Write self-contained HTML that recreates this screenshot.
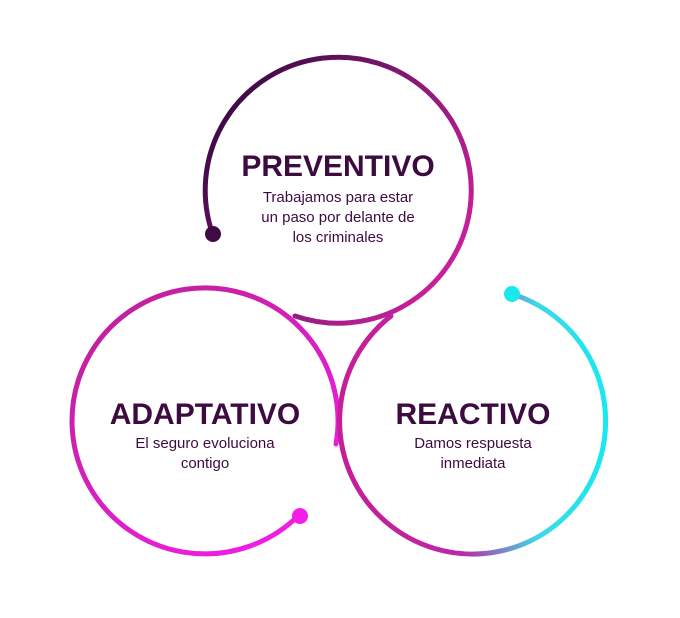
<!DOCTYPE html>
<html><head><meta charset="utf-8"><style>
html,body{margin:0;padding:0;background:#fff;}
svg{display:block}
text{font-family:"Liberation Sans",sans-serif;fill:#3d0b40;text-anchor:middle}
.t{font-size:30px;font-weight:bold}
.s{font-size:15px}
</style></head><body>
<svg width="680" height="618" viewBox="0 0 680 618">
<defs>
<linearGradient id="g1" gradientUnits="userSpaceOnUse" x1="220" y1="120" x2="460" y2="280">
<stop offset="0" stop-color="#3f0a45"/><stop offset="0.5" stop-color="#8a1a78"/><stop offset="1" stop-color="#d0219f"/></linearGradient>
<linearGradient id="g2" gradientUnits="userSpaceOnUse" x1="120" y1="300" x2="300" y2="540">
<stop offset="0" stop-color="#c0219c"/><stop offset="1" stop-color="#f21ee8"/></linearGradient>
<linearGradient id="g3" gradientUnits="userSpaceOnUse" x1="350" y1="420" x2="600" y2="420">
<stop offset="0" stop-color="#c41f98"/><stop offset="0.45" stop-color="#b92aa5"/><stop offset="0.75" stop-color="#3fd8e6"/><stop offset="1" stop-color="#1ae8ee"/></linearGradient>
</defs>
<g fill="none" stroke-width="5" stroke-linecap="round">
<path d="M213,235 A133,133 0 1 1 295,316" stroke="url(#g1)"/>
<path d="M299,515 A133,133 0 1 1 336,444" stroke="url(#g2)"/>
<path d="M512,294 A133,133 0 1 1 391,316" stroke="url(#g3)"/>
</g>
<circle cx="213" cy="234" r="8" fill="#3f0a45"/>
<circle cx="300" cy="516" r="8" fill="#f21ee8"/>
<circle cx="512" cy="294" r="8" fill="#1ae8ee"/>
<text class="t" x="338" y="176">PREVENTIVO</text>
<text class="s" x="338" y="202">Trabajamos para estar</text>
<text class="s" x="338" y="222">un paso por delante de</text>
<text class="s" x="338" y="242">los criminales</text>
<text class="t" x="205" y="424">ADAPTATIVO</text>
<text class="s" x="205" y="448">El seguro evoluciona</text>
<text class="s" x="205" y="468">contigo</text>
<text class="t" x="473" y="424">REACTIVO</text>
<text class="s" x="473" y="448">Damos respuesta</text>
<text class="s" x="473" y="468">inmediata</text>
</svg>
</body></html>
